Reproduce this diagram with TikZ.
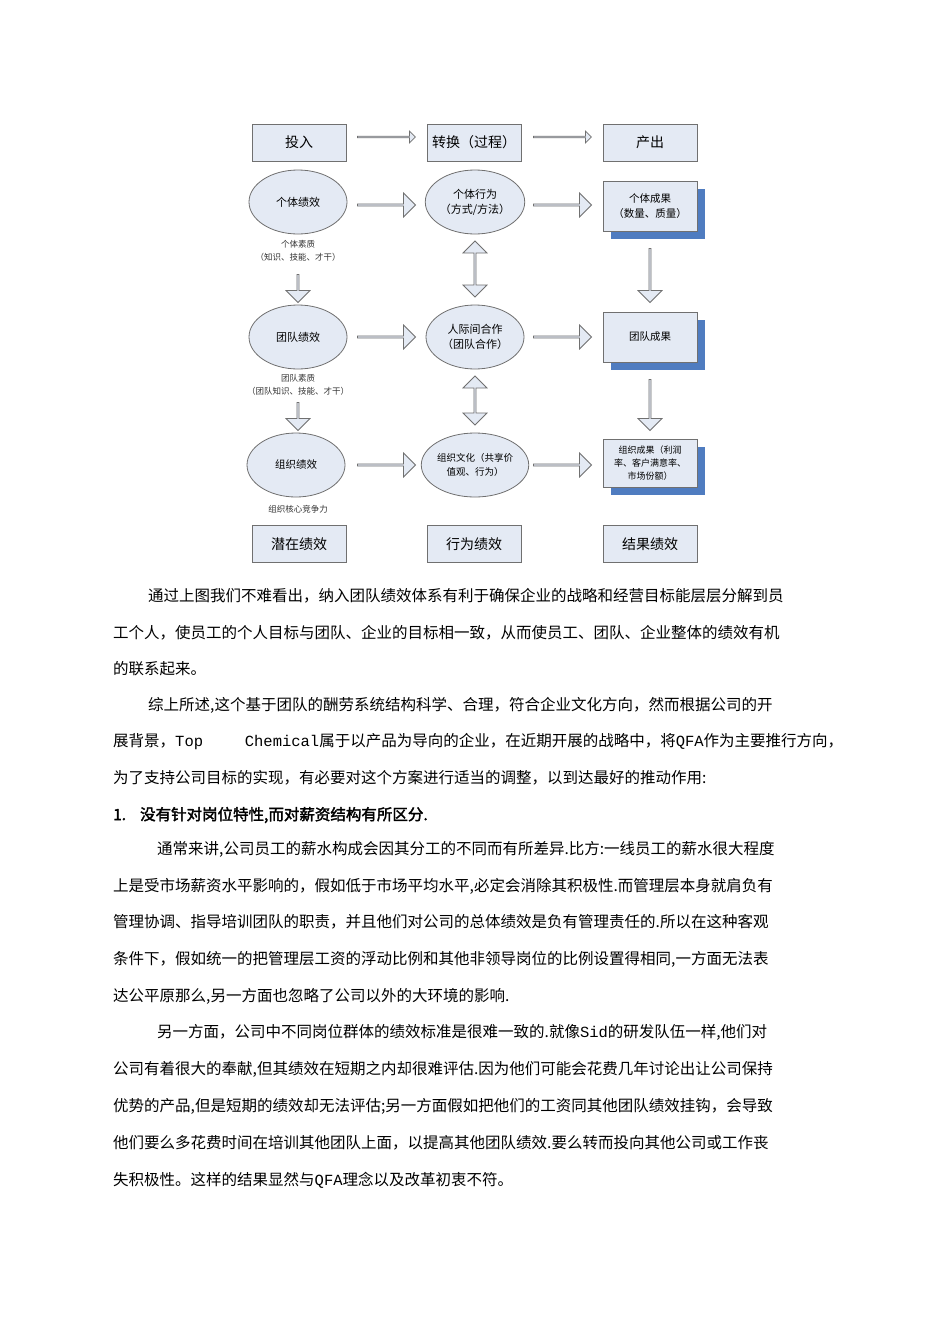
\documentclass[tikz,border=0pt]{standalone}
\usepackage{fontspec}
\setmainfont{Noto Sans CJK SC}
\newfontfamily\cjkb{Noto Sans CJK SC}[FakeBold=2]
\newfontfamily\mono{Liberation Mono}
\usetikzlibrary{shapes.geometric,shapes.arrows}
\definecolor{fillb}{HTML}{E4EAF4}
\definecolor{edge}{HTML}{707070}
\definecolor{shad}{HTML}{4F7CC0}
\newcommand\jl[2]{\hbox to #1pt{\XeTeXlinebreaklocale "zh"\XeTeXlinebreakskip=0pt plus 3pt\relax #2}}
\tikzset{
 box/.style={draw=edge,fill=fillb,line width=0.8pt,minimum width=94pt,minimum height=37pt,font=\fontsize{14}{16}\selectfont},
 rbox/.style={draw=edge,fill=fillb,line width=0.8pt,minimum width=94pt,minimum height=50pt,align=center,font=\fontsize{10.5}{15}\selectfont},
 ell/.style={ellipse,draw=edge,fill=fillb,line width=0.8pt,minimum width=98pt,minimum height=64pt,inner sep=0pt,align=center,font=\fontsize{11}{15}\selectfont},
 harr/.style={single arrow,draw=edge,fill=fillb,line width=0.8pt,minimum width=24pt,minimum height=58pt,single arrow head extend=4pt,single arrow head indent=0pt,inner sep=0pt},
 tarr/.style={single arrow,draw=edge,fill=fillb,line width=0.8pt,minimum width=12pt,minimum height=58pt,single arrow head extend=2.5pt,inner sep=0pt},
 varr/.style={harr,shape border rotate=270,minimum height=28pt},
 vdarr/.style={double arrow,draw=edge,fill=fillb,line width=0.8pt,minimum width=24pt,double arrow head extend=4pt,inner sep=0pt,shape border rotate=90},
 lab/.style={align=center,font=\fontsize{8.5}{13}\selectfont,text=black!80},
 txt/.style={anchor=west,inner sep=0pt,font=\fontsize{15.5}{18}\selectfont},
}
\begin{document}
\begin{tikzpicture}[x=1pt,y=-1pt]
\useasboundingbox[fill=white] (0,0) rectangle (950,1344);
% top row
\node[box] (in) at (299,142.5) {投入};
\node[box] (tr) at (474,142.5) {转换（过程）};
\node[box] (out) at (650,142.5) {产出};
\node[tarr] (ta1) at (386,137) {};
\node[tarr] (ta2) at (562,137) {};
% row 1
\node[ell] (e1) at (298,202) {个体绩效};
\node[ell] (e2) at (475,202) {个体行为\\（方式/方法）};
\fill[shad] (611,189) rectangle (705,239);
\node[rbox] (r1) at (650,206) {个体成果\\（数量、质量）};
\node[harr] (h11) at (386,205) {};
\node[harr] (h12) at (562,205) {};
\node[lab] (l1) at (298,251) {个体素质\\（知识、技能、才干）};
\node[varr] (v1) at (298,288) {};
\node[vdarr,minimum height=56pt] (d1) at (475,269) {};
\node[varr,minimum height=54pt] (v3) at (650,275) {};
% row 2
\node[ell] (f1) at (298,337) {团队绩效};
\node[ell] (f2) at (475,337) {人际间合作\\（团队合作）};
\fill[shad] (611,320) rectangle (705,370);
\node[rbox] (r2) at (650,337) {团队成果};
\node[harr] (h21) at (386,337) {};
\node[harr] (h22) at (562,337) {};
\node[lab] (l2) at (298,384.5) {团队素质\\（团队知识、技能、才干）};
\node[varr] (v2) at (298,416) {};
\node[vdarr,minimum height=49pt] (d2) at (475,400.5) {};
\node[varr,minimum height=51pt] (v4) at (650,404.5) {};
% row 3
\node[ell,font=\fontsize{10.5}{15}\selectfont] (g1) at (296,465) {组织绩效};
\node[ell,font=\fontsize{9.5}{14}\selectfont] (g2) at (475,465) {组织文化（共享价\\值观、行为）};
\fill[shad] (611,447) rectangle (705,495);
\node[rbox,minimum height=48pt,font=\fontsize{9}{13}\selectfont] (r3) at (650,463) {组织成果（利润\\率、客户满意率、\\市场份额）};
\node[harr] (h31) at (386,465) {};
\node[harr] (h32) at (562,465) {};
\node[lab] (l3) at (298,509) {组织核心竞争力};
% bottom row
\node[box] (b1) at (299,544) {潜在绩效};
\node[box] (b2) at (474,544) {行为绩效};
\node[box] (b3) at (650,544) {结果绩效};
% text
\node[txt] (t1) at (148,596) {\jl{687}{通过上图我们不难看出，纳入团队绩效体系有利于确保企业的战略和经营目标能层层分解到员}};
\node[txt] (t2) at (113,633) {\jl{722}{工个人，使员工的个人目标与团队、企业的目标相一致，从而使员工、团队、企业整体的绩效有机}};
\node[txt] (t3) at (113,669) {的联系起来。};
\node[txt] (t4) at (148,705) {\jl{687}{综上所述,这个基于团队的酬劳系统结构科学、合理，符合企业文化方向，然而根据公司的开}};
\node[txt] (t5) at (113,742) {\jl{730}{展背景，{\mono Top Chemical}属于以产品为导向的企业，在近期开展的战略中，将{\mono QFA}作为主要推行方向，}};
\node[txt] (t6) at (113,778) {为了支持公司目标的实现，有必要对这个方案进行适当的调整，以到达最好的推动作用:};
\node[txt] (t7) at (113,815) {\cjkb 1.\hspace{14pt}没有针对岗位特性,而对薪资结构有所区分.};
\node[txt] (t8) at (157,849) {\jl{678}{通常来讲,公司员工的薪水构成会因其分工的不同而有所差异.比方:一线员工的薪水很大程度}};
\node[txt] (t9) at (113,886) {\jl{722}{上是受市场薪资水平影响的，假如低于市场平均水平,必定会消除其积极性.而管理层本身就肩负有}};
\node[txt] (t10) at (113,922) {\jl{722}{管理协调、指导培训团队的职责，并且他们对公司的总体绩效是负有管理责任的.所以在这种客观}};
\node[txt] (t11) at (113,959) {\jl{722}{条件下，假如统一的把管理层工资的浮动比例和其他非领导岗位的比例设置得相同,一方面无法表}};
\node[txt] (t12) at (113,996) {达公平原那么,另一方面也忽略了公司以外的大环境的影响.};
\node[txt] (t13) at (157,1032) {\jl{678}{另一方面，公司中不同岗位群体的绩效标准是很难一致的.就像{\mono Sid}的研发队伍一样,他们对}};
\node[txt] (t14) at (113,1069) {\jl{722}{公司有着很大的奉献,但其绩效在短期之内却很难评估.因为他们可能会花费几年讨论出让公司保持}};
\node[txt] (t15) at (113,1106) {\jl{722}{优势的产品,但是短期的绩效却无法评估;另一方面假如把他们的工资同其他团队绩效挂钩，会导致}};
\node[txt] (t16) at (113,1143) {\jl{722}{他们要么多花费时间在培训其他团队上面，以提高其他团队绩效.要么转而投向其他公司或工作丧}};
\node[txt] (t17) at (113,1180) {失积极性。这样的结果显然与{\mono QFA}理念以及改革初衷不符。};
\end{tikzpicture}
\end{document}
